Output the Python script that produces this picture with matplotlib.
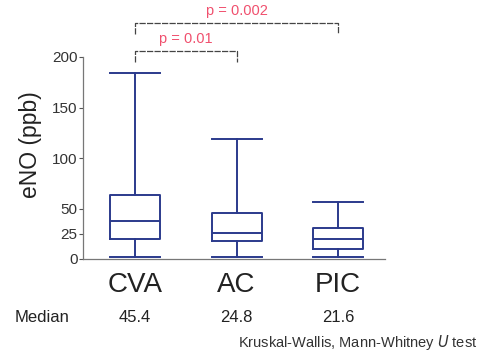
import matplotlib.pyplot as plt

plt.rcParams['font.family'] = ['Liberation Sans', 'DejaVu Sans']

groups = ["CVA", "AC", "PIC"]
medians_txt = ["45.4", "24.8", "21.6"]
# box stats (ppb)
whislo = [2, 2, 2]
q1 = [20, 18, 10]
med = [38, 26, 20]
q3 = [63, 45.5, 31]
whishi = [184, 119, 56]

pvals = [("p = 0.01", 1, 2, 206), ("p = 0.002", 1, 3, 234)]

stats = []
for i, g in enumerate(groups):
    stats.append({"label": g, "whislo": whislo[i], "q1": q1[i], "med": med[i],
                  "q3": q3[i], "whishi": whishi[i], "fliers": []})

blue = "#2b3a8c"
grey = "#555555"

fig = plt.figure(figsize=(4.86, 3.56), dpi=100)
ax = fig.add_axes([83 / 486, 97 / 356, 302 / 486, 202 / 356])

props = dict(color=blue, linewidth=1.4)
ax.bxp(stats, positions=[1, 2, 3], widths=0.49, showfliers=False,
       boxprops=props, whiskerprops=props, capprops=props, medianprops=props,
       capwidths=0.49)

ax.set_xlim(0.488, 3.46)
ax.set_ylim(0, 200)
ax.set_yticks([0, 25, 50, 100, 150, 200])
ax.set_xticks([1, 2, 3])
ax.set_xticklabels(groups, fontsize=20, color="#222222")
ax.tick_params(axis="x", length=0, pad=9)
ax.tick_params(axis="y", labelsize=11, colors=grey, labelcolor="#333333",
               length=3, width=0.8, pad=1)
for s in ["top", "right"]:
    ax.spines[s].set_visible(False)
for s in ["left", "bottom"]:
    ax.spines[s].set_color("#777777")
    ax.spines[s].set_linewidth(0.9)

fig.text(31 / 486, 1 - 145 / 356, "eNO (ppb)", fontsize=16.5, color="#222222",
         rotation=90, ha="center", va="center")

# significance brackets
for txt, a, b, y in pvals:
    ax.plot([a, a, b, b], [y - 11, y, y, y - 11], color="#444444",
            linewidth=0.9, linestyle=(0, (5, 1)), clip_on=False)
    ax.text((a + b) / 2, y + 5, txt, color="#f0506e", fontsize=10.5,
            ha="center", va="bottom", clip_on=False)

# median row
fig.text(15 / 486, 1 - 317 / 356, "Median", fontsize=12, color="#222222",
         ha="left", va="center")
for i, m in enumerate(medians_txt):
    xp = ax.transData.transform((i + 1, 0))[0] / fig.bbox.width
    fig.text(xp, 1 - 317 / 356, m, fontsize=12, color="#222222",
             ha="center", va="center")

fig.text(477 / 486, 1 - 342 / 356, "Kruskal-Wallis, Mann-Whitney $\\it{U}$ test",
         fontsize=10.5, color="#333333", ha="right", va="center")

fig.savefig("out.png", dpi=100)
